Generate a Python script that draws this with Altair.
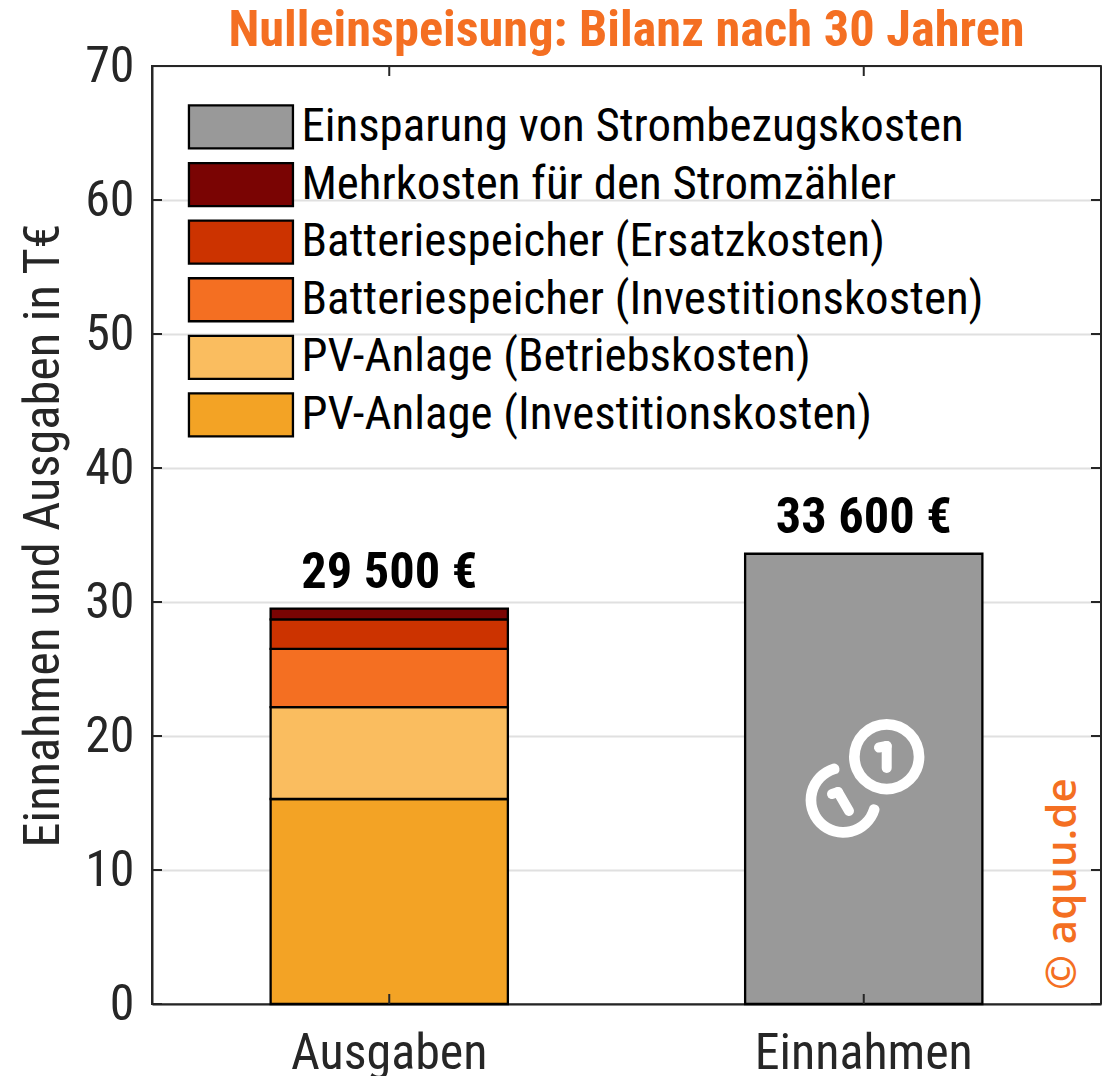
import altair as alt
import pandas as pd

FONT = "Roboto Condensed, Liberation Sans Narrow, Roboto"
categories = ["Ausgaben", "Einnahmen"]
series = ["Einsparung von Strombezugskosten", "Mehrkosten für den Stromzähler",
          "Batteriespeicher (Ersatzkosten)", "Batteriespeicher (Investitionskosten)",
          "PV-Anlage (Betriebskosten)", "PV-Anlage (Investitionskosten)"]
colors = ["#999999", "#7a0403", "#cc3300", "#f46f22", "#fabd5f", "#f3a325"]
bar_cat = ["Ausgaben", "Ausgaben", "Ausgaben", "Ausgaben", "Ausgaben", "Einnahmen"]
bar_series = [series[5], series[4], series[3], series[2], series[1], series[0]]
bar_values = [15.3, 6.85, 4.35, 2.2, 0.8, 33.6]
bar_order = [1, 2, 3, 4, 5, 6]
total_values = [29.5, 33.6]
total_labels = ["29 500 €", "33 600 €"]
y_ticks = [0, 10, 20, 30, 40, 50, 60, 70]

W, H = 949, 938
df = pd.DataFrame({"cat": bar_cat, "s": bar_series, "v": bar_values, "o": bar_order})
tot = pd.DataFrame({"cat": categories, "v": total_values, "t": total_labels})
yt = pd.DataFrame({"y": y_ticks})
xt = pd.DataFrame({"cat": categories})

x_scale = alt.Scale(domain=categories, paddingInner=0.5, paddingOuter=0.25)
y_scale = alt.Scale(domain=[0, 70], nice=False, zero=True)
INK = "#262626"

bars = alt.Chart(df).mark_bar(stroke="black", strokeWidth=2.3).encode(
    x=alt.X("cat:N", scale=x_scale, title=None, sort=categories,
            axis=alt.Axis(labelAngle=0, labelFont=FONT, labelFontSize=50, labelColor=INK, labelLimit=500,
                          tickSize=0, domainColor=INK, domainWidth=2, labelPadding=24, grid=False)),
    y=alt.Y("v:Q", stack="zero", scale=y_scale, title="Einnahmen und Ausgaben in T€",
            axis=alt.Axis(values=y_ticks, labelFont=FONT, labelFontSize=50, labelColor=INK,
                          titleFont=FONT, titleFontSize=50.4, titleColor=INK, titleFontWeight="normal",
                          tickSize=0, labelPadding=18, titlePadding=15, domainColor=INK, domainWidth=2,
                          grid=True, gridColor="#e0e0e0", gridWidth=2)),
    color=alt.Color("s:N", scale=alt.Scale(domain=series, range=colors),
                    legend=alt.Legend(title=None, orient="none", legendX=65.5, legendY=37.5,
                                      padding=0, symbolType="M-2.6,-1.075H2.6V1.075H-2.6Z",
                                      symbolSize=1600, symbolStrokeColor="black", symbolStrokeWidth=2.3,
                                      labelFont=FONT, labelFontSize=46.9, labelColor="black",
                                      labelOffset=37, rowPadding=4.6, labelLimit=800)),
    order=alt.Order("o:Q"),
)

labels = alt.Chart(tot).mark_text(font=FONT, fontSize=50.4, fontWeight="bold", color="black",
                                  baseline="alphabetic", dy=-21).encode(
    x=alt.X("cat:N", scale=x_scale, sort=categories), y=alt.Y("v:Q", scale=y_scale), text="t:N")

tick_l = alt.Chart(yt).mark_rule(color=INK, strokeWidth=2).encode(
    y=alt.Y("y:Q", scale=y_scale), x=alt.value(0), x2=alt.value(10))
tick_r = alt.Chart(yt).mark_rule(color=INK, strokeWidth=2).encode(
    y=alt.Y("y:Q", scale=y_scale), x=alt.value(W - 10), x2=alt.value(W))
tick_b = alt.Chart(xt).mark_rule(color=INK, strokeWidth=2).encode(
    x=alt.X("cat:N", scale=x_scale, sort=categories), y=alt.value(H - 10), y2=alt.value(H))
tick_t = alt.Chart(xt).mark_rule(color=INK, strokeWidth=2).encode(
    x=alt.X("cat:N", scale=x_scale, sort=categories), y=alt.value(0), y2=alt.value(10))

icon_src = alt.Chart(pd.DataFrame({"i": [0]}))
OX, OY = 152, 66
frame_top = icon_src.mark_rule(color=INK, strokeWidth=2).encode(x=alt.value(0), x2=alt.value(W), y=alt.value(0))
frame_right = icon_src.mark_rule(color=INK, strokeWidth=2).encode(x=alt.value(W), y=alt.value(0), y2=alt.value(H))
coin_a = icon_src.mark_arc(color="white", theta=0, theta2=6.2832, radius=37.7, radius2=27).encode(
    x=alt.value(886.7 - OX), y=alt.value(756.7 - OY))
coin_b = icon_src.mark_arc(color="white", theta=1.71, theta2=6.16, radius=37.7, radius2=27,
                           cornerRadius=5.3).encode(x=alt.value(843.3 - OX), y=alt.value(800 - OY))

def stroke(x1, y1, x2, y2):
    return icon_src.mark_rule(color="white", strokeWidth=10, strokeCap="round").encode(
        x=alt.value(x1 - OX), y=alt.value(y1 - OY), x2=alt.value(x2 - OX), y2=alt.value(y2 - OY))

one_a = stroke(886.7, 768, 886.7, 746) + stroke(886.7, 746, 879, 747.5)
one_b = stroke(849, 811, 838, 792) + stroke(838, 792, 832, 794)

mark_text = icon_src.mark_text(text="© aquu.de", font="Open Sans", fontSize=42, fontWeight=600, color="#f46f22",
                               angle=270, align="left", baseline="alphabetic").encode(
    x=alt.value(1076 - OX), y=alt.value(990 - OY))

chart = alt.layer(bars, labels, coin_a, coin_b, one_a, one_b, mark_text, tick_l, tick_r, tick_b, tick_t,
                  frame_top, frame_right).properties(
    width=W, height=H, autosize="none",
    padding={"left": 144, "top": 58, "right": 3, "bottom": 72},
    title=alt.TitleParams("Nulleinspeisung: Bilanz nach 30 Jahren", font=FONT, fontSize=50.4, fontWeight="bold",
                          color="#f46f22", anchor="middle", offset=8, dy=23),
).configure_view(stroke=INK, strokeWidth=2)

chart.save("out.html", embed_options={"renderer": "svg", "actions": False})
